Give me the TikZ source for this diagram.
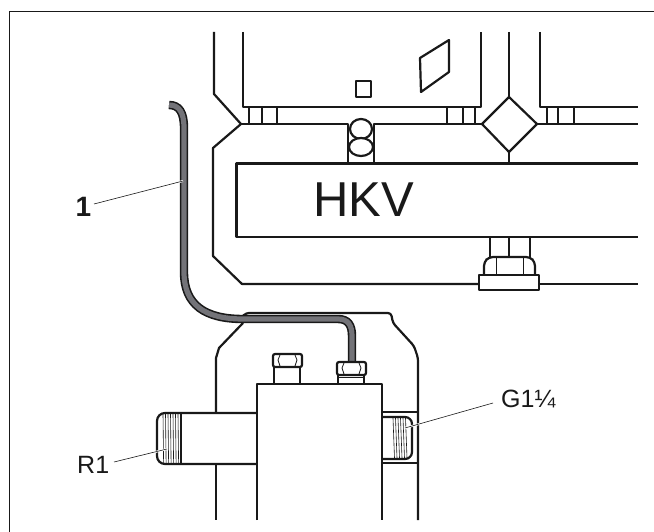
\documentclass[tikz,border=0pt]{standalone}
\usepackage{fontspec}
\setmainfont{Liberation Sans}
\definecolor{inkline}{rgb}{0.1,0.1,0.1}
\definecolor{pipegray}{rgb}{0.45,0.45,0.47}
\tikzset{
    outline/.style={draw=inkline,line width=2.2pt,line join=round},
    thinline/.style={draw=inkline,line width=0.8pt},
    leader/.style={draw=inkline,line width=0.6pt},
    halo/.style={draw=white,line width=2pt},
    label/.style={inner sep=0pt,text=inkline,font=\fontsize{25}{25}\selectfont}
}

\begin{document}
\begin{tikzpicture}[x=1pt,y=-1pt]
    \useasboundingbox (0,0) rectangle (654,532);
    \fill[white] (0,0) rectangle (654,532);
    \draw[inkline,line width=1.2pt] (9.5,532) -- (9.5,11.5) -- (654,11.5);

    \draw[outline] (214,32) -- (214,94) -- (241,124) -- (213,148) -- (213,256) -- (242,284) -- (479,284);
    \draw[outline] (539,284) -- (638,284);
    \draw[outline] (243,32) -- (243,107) -- (481,107) -- (481,32);
    \draw[outline] (540,32) -- (540,107) -- (638,107);
    \draw[outline] (509,32) -- (509,97);
    \draw[outline] (509,97) -- (537,124) -- (509,152) -- (482,124) -- cycle;
    \draw[outline] (509,152) -- (509,163.5);
    \draw[outline] (241,124) -- (348,124) -- (348,163.5);
    \draw[outline] (374,163.5) -- (374,124) -- (482,124);
    \draw[outline] (537,124) -- (638,124);
    \foreach \tickx in {249,262,277,447,463,475,547,558,574}
        \draw[outline] (\tickx,107) -- (\tickx,124);
    \draw[outline,fill=white] (361,129) ellipse [x radius=11,y radius=10];
    \draw[outline,fill=white] (361,147) ellipse [x radius=12,y radius=9];
    \draw[outline] (638,163.5) -- (236.5,163.5) -- (236.5,237) -- (638,237);
    \draw[outline] (356,81) rectangle (371,97);
    \draw[outline] (420,58) -- (449,40) -- (449,72) -- (421,92) -- cycle;
    \node[inner sep=0pt,anchor=base,text=inkline,font=\fontsize{49}{49}\selectfont] (hkv) at (363.5,216.7) {HKV};

    \foreach \shaftx in {490,509,530}
        \draw[outline] (\shaftx,237) -- (\shaftx,257);
    \draw[outline,rounded corners=4pt] (484,275) -- (484,262) -- (489,257) -- (530,257) -- (535,262) -- (535,275);
    \draw[thinline] (496,258) -- (496,275);
    \draw[thinline] (523,258) -- (523,275);
    \draw[outline,fill=white] (479,275) rectangle (539,290);

    \draw[outline] (216,412) -- (216,358) -- (219,348) -- (243,323);
    \draw[outline,rounded corners=3pt] (243,316) -- (246,313) -- (391,313) -- (393,323) -- (414,346) -- (418,358) -- (418,520);
    \draw[outline] (216,464) -- (216,520);
    \draw[outline] (382,412) -- (418,412);
    \draw[outline] (382,463) -- (418,463);

    \draw[inkline,line width=8.4pt] (169,105) .. controls (179,105) and (184,112) .. (184,128) -- (184,272) .. controls (184,305) and (205,319) .. (243,319) -- (338,319) .. controls (348,319) and (352,325) .. (352,336) -- (352,364);
    \draw[pipegray,line width=5.2pt] (169,105) .. controls (179,105) and (184,112) .. (184,128) -- (184,272) .. controls (184,305) and (205,319) .. (243,319) -- (338,319) .. controls (348,319) and (352,325) .. (352,336) -- (352,364);

    \draw[outline] (274,384) -- (274,367);
    \draw[outline] (300,384) -- (300,367);
    \draw[thinline] (274,367) -- (300,367);
    \draw[outline,fill=white,rounded corners=2pt] (273,367) rectangle (302,354);
    \draw[thinline] (280,355) -- (278,360) -- (280,366) (295,355) -- (297,360) -- (295,366);
    \draw[outline] (338,384) -- (338,375);
    \draw[outline] (364,384) -- (364,375);
    \draw[thinline] (338,377) -- (364,377);
    \draw[outline,fill=white,rounded corners=2pt] (337,375) rectangle (366,362);
    \draw[thinline] (344,363) -- (342,368) -- (344,374) (359,363) -- (361,368) -- (359,374);

    \draw[outline,fill=white,rounded corners=8pt] (257,413) -- (157,413) -- (157,464) -- (257,464);
    \draw[outline] (181,413) -- (181,464);
    \foreach \threadx in {163,165.5,168,170.5,173,175.5,178}
        \draw[thinline,line width=0.6pt] (\threadx,414) -- (\threadx+0.6,463);
    \draw[outline,fill=white,rounded corners=7pt] (382,417) -- (412,417) -- (412,459) -- (382,459);
    \foreach \threadx in {393,395.5,398,400.5,403,405.5}
        \draw[thinline,line width=0.6pt] (\threadx,418) -- (\threadx+1.5,458);
    \draw[outline] (257,520) -- (257,384) -- (382,384) -- (382,520);

    \node[label,font=\fontsize{28}{28}\selectfont\bfseries,anchor=base] (pipelabel) at (83.5,217) {1};
    \node[label,anchor=base west] (rlabel) at (77,473) {R1};
    \node[label,anchor=base west] (glabel) at (501,407) {G1¼};
    \coordinate (pipepoint) at (183,181);
    \coordinate (rpoint) at (167,449);
    \coordinate (gpoint) at (405,428);
    \coordinate (pipefrom) at (94,204);
    \coordinate (rfrom) at (114,462);
    \coordinate (gfrom) at (493,403);
    \draw[halo] (178,182.3) -- (pipepoint);
    \draw[halo] (150,453.3) -- (rpoint);
    \draw[halo] (420,423.8) -- (gpoint);
    \draw[leader] (pipefrom) -- (pipepoint);
    \draw[leader] (rfrom) -- (rpoint);
    \draw[leader] (gfrom) -- (gpoint);
\end{tikzpicture}
\end{document}
